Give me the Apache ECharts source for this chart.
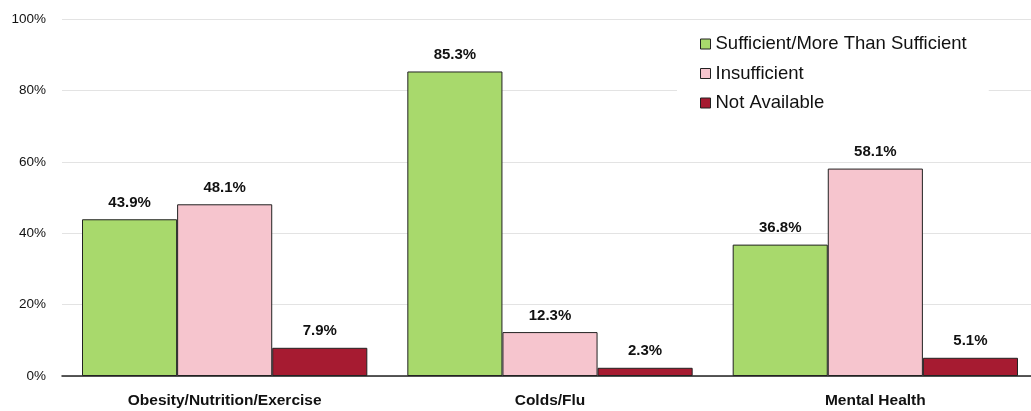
<!DOCTYPE html>
<html>
<head>
<meta charset="utf-8">
<script src="https://cdn.jsdelivr.net/npm/echarts@6/dist/echarts.min.js"></script>
<style>
html,body{margin:0;padding:0;background:#fff;}
#c{width:1031px;height:411px;}
</style>
</head>
<body>
<div id="c"></div>
<script>
const categories = ['Obesity/Nutrition/Exercise', 'Colds/Flu', 'Mental Health'];
const seriesNames = ['Sufficient/More Than Sufficient', 'Insufficient', 'Not Available'];
const sufficient = [43.9, 85.3, 36.8];
const insufficient = [48.1, 12.3, 58.1];
const notAvailable = [7.9, 2.3, 5.1];
const colors = ['#A8D96C', '#F6C5CE', '#A61B31'];

const values = [sufficient, insufficient, notAvailable];
const chart = echarts.init(document.getElementById('c'));
const font = '"Liberation Sans", Arial, sans-serif';
chart.setOption({
  animation: false,
  textStyle: { fontFamily: font },
  grid: { left: 62, top: 19, width: 976, height: 357, containLabel: false, outerBoundsMode: 'none' },
  legend: {
    orient: 'vertical',
    left: 677,
    top: 26,
    padding: [8, 22, 8, 23],
    backgroundColor: '#ffffff',
    itemWidth: 10,
    itemHeight: 10,
    itemGap: 9.5,
    icon: 'rect',
    itemStyle: { borderColor: '#222', borderWidth: 1 },
    textStyle: { fontSize: 18.5, color: '#111', fontFamily: font, lineHeight: 20 },
    data: seriesNames
  },
  xAxis: {
    type: 'category',
    data: categories,
    axisLine: { lineStyle: { color: '#222', width: 1.5 } },
    axisTick: { show: false },
    axisLabel: { fontSize: 15.5, fontWeight: 'bold', color: '#111', margin: 17, fontFamily: font }
  },
  yAxis: {
    type: 'value',
    min: 0, max: 100, interval: 20,
    axisLine: { show: false },
    axisTick: { show: false },
    splitLine: { lineStyle: { color: '#e3e3e3', width: 1 } },
    axisLabel: { formatter: '{value}%', fontSize: 13.5, color: '#111', margin: 16, fontFamily: font }
  },
  series: seriesNames.map((n, i) => ({
    name: n,
    type: 'bar',
    data: values[i],
    barGap: '0%',
    barCategoryGap: '12.3%',
    itemStyle: { color: colors[i], borderColor: '#222', borderWidth: 1 },
    label: {
      show: true, position: 'top', distance: 9,
      formatter: p => p.value.toFixed(1) + '%',
      fontSize: 15, fontWeight: 'bold', color: '#111', fontFamily: font
    }
  }))
});
</script>
</body>
</html>
